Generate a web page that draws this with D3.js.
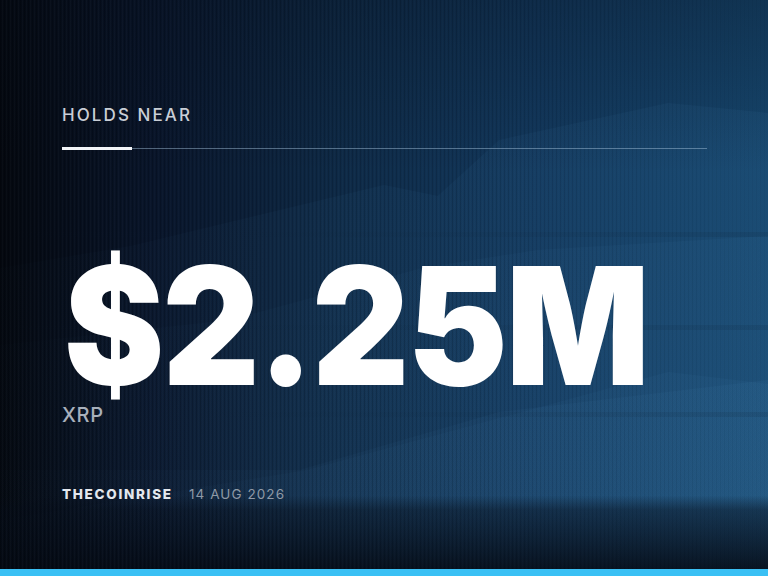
<!DOCTYPE html>
<html>
<head>
<meta charset="utf-8">
<script src="https://cdn.jsdelivr.net/npm/d3@7"></script>
<style>
  html, body { margin: 0; padding: 0; background: #060a13; }
  svg { display: block; }
</style>
</head>
<body>
<div id="card"></div>
<script>
// ── Datos ──────────────────────────────────────────────
const kicker   = ["HOLDS NEAR"];
const headline = ["$2.25M"];
const unit     = ["XRP"];
const source   = ["THECOINRISE"];
const dates    = ["14 AUG 2026"];

// crestas del fondo (x en %, y en px)
const ridgeBack  = [[0, 268], [17, 246], [50, 185], [57, 196], [65, 140], [87, 103], [100, 113]];
const ridgeMid   = [[0, 345], [30, 320], [55, 268], [70, 250], [100, 236]];
const ridgeLow   = [[0, 470], [39, 470], [65, 412], [100, 380]];
const ridgeFront = [[0, 520], [40, 470], [69, 410], [87, 372], [100, 384]];
const bandRows   = [232, 325, 412];

const W = 768, H = 576;
const x = d3.scaleLinear().domain([0, 100]).range([0, W]);

const svg = d3.select('#card').append('svg')
    .attr('width', W).attr('height', H);
const defs = svg.append('defs');

// ── Fondo ──────────────────────────────────────────────
const bgH = defs.append('linearGradient').attr('id', 'bgH')
    .attr('x1', 0).attr('x2', 1).attr('y1', 0).attr('y2', 0);
[[0, '#04080f'], [0.2, '#09152a'], [0.45, '#0e2a47'], [0.7, '#12385d'], [1, '#16466d']]
    .forEach(([o, c]) => bgH.append('stop').attr('offset', o).attr('stop-color', c));

const bgV = defs.append('linearGradient').attr('id', 'bgV')
    .attr('x1', 0).attr('x2', 0).attr('y1', 0).attr('y2', 1);
[[0, 'rgba(5,12,24,0.3)'], [0.3, 'rgba(5,12,24,0)'], [0.86, 'rgba(5,12,24,0)'],
 [0.885, 'rgba(5,12,24,0.45)'], [1, 'rgba(4,9,18,0.9)']]
    .forEach(([o, c]) => bgV.append('stop').attr('offset', o).attr('stop-color', c));

const stripes = defs.append('pattern').attr('id', 'stripes')
    .attr('patternUnits', 'userSpaceOnUse').attr('width', 4).attr('height', 8);
stripes.append('rect').attr('width', 1).attr('height', 8).attr('fill', 'rgba(0,0,0,0.16)');
stripes.append('rect').attr('x', 2).attr('width', 1).attr('height', 8).attr('fill', 'rgba(255,255,255,0.025)');

const stripeFade = defs.append('linearGradient').attr('id', 'stripeFade')
    .attr('x1', 0).attr('x2', 1);
[[0, 'white', 1], [0.6, 'white', 0.7], [1, 'white', 0.15]]
    .forEach(([o, c, a]) => stripeFade.append('stop').attr('offset', o)
        .attr('stop-color', c).attr('stop-opacity', a));
defs.append('mask').attr('id', 'stripeMask')
    .append('rect').attr('width', W).attr('height', H).attr('fill', 'url(#stripeFade)');

svg.append('rect').attr('width', W).attr('height', H).attr('fill', 'url(#bgH)');

// crestas
const ridgeFade = defs.append('linearGradient').attr('id', 'ridgeFade')
    .attr('x1', 0).attr('x2', 1);
[[0, 0.1], [0.35, 0.55], [1, 1]]
    .forEach(([o, a]) => ridgeFade.append('stop').attr('offset', o)
        .attr('stop-color', '#4f92c4').attr('stop-opacity', a));

const area = d3.area().x(d => x(d[0])).y0(H).y1(d => d[1]);
const ridges = [
    { pts: ridgeBack,  op: 0.08 },
    { pts: ridgeMid,   op: 0.06 },
    { pts: ridgeLow,   op: 0.07 },
    { pts: ridgeFront, op: 0.06 }
];
svg.append('g').selectAll('path').data(ridges).join('path')
    .attr('d', d => area(d.pts))
    .attr('fill', 'url(#ridgeFade)')
    .attr('opacity', d => d.op);

// bandas horizontales (más visibles a la derecha)
const bandFade = defs.append('linearGradient').attr('id', 'bandFade')
    .attr('x1', 0).attr('x2', 1);
[[0, 0], [0.5, 0.4], [1, 1]]
    .forEach(([o, a]) => bandFade.append('stop').attr('offset', o)
        .attr('stop-color', '#0a2036').attr('stop-opacity', a));
svg.append('g').selectAll('rect').data(bandRows).join('rect')
    .attr('x', 0).attr('width', W)
    .attr('y', d => d).attr('height', 5)
    .attr('fill', 'url(#bandFade)').attr('opacity', 0.14);

svg.append('rect').attr('width', W).attr('height', H).attr('fill', 'url(#bgV)');
svg.append('rect').attr('width', W).attr('height', H)
    .attr('fill', 'url(#stripes)').attr('mask', 'url(#stripeMask)');

// barra inferior
svg.append('rect').attr('x', 0).attr('y', 569).attr('width', W).attr('height', 7)
    .attr('fill', '#3ac0f4');

// ── Textos ─────────────────────────────────────────────
const left = 62;
const fit = (sel, width) => sel.attr('textLength', width).attr('lengthAdjust', 'spacing');

svg.append('text').data(kicker)
    .attr('x', left).attr('y', 121)
    .attr('font-family', 'Inter, "Noto Sans", sans-serif')
    .attr('font-size', 17).attr('font-weight', 500)
    .attr('fill', '#c9ced6')
    .text(d => d)
    .call(fit, 128);

// separador
svg.append('line').attr('x1', 132).attr('x2', 707).attr('y1', 148.5).attr('y2', 148.5)
    .attr('stroke', 'rgba(170,200,225,0.45)').attr('stroke-width', 1);
svg.append('rect').attr('x', left).attr('y', 147).attr('width', 70).attr('height', 3)
    .attr('fill', '#f2f4f7');

// cifra principal: escala horizontal para ocupar 64..648
const bigG = svg.append('g');
const big = bigG.append('text').data(headline)
    .attr('x', 0).attr('y', 0)
    .attr('font-family', 'Inter, "Noto Sans", sans-serif')
    .attr('font-size', 164).attr('font-weight', 900)
    .attr('letter-spacing', -2)
    .attr('fill', '#ffffff')
    .text(d => d);
{
    const bb = big.node().getBBox();
    const sx = 584 / bb.width;
    bigG.attr('transform', `translate(${64 - bb.x * sx},385) scale(${sx},1)`);
}

svg.append('text').data(unit)
    .attr('x', left).attr('y', 422)
    .attr('font-family', 'Inter, "Noto Sans", sans-serif')
    .attr('font-size', 20).attr('font-weight', 500)
    .attr('letter-spacing', 0.6)
    .attr('fill', '#a8b0bb')
    .text(d => d);

svg.append('text').data(source)
    .attr('x', left).attr('y', 499)
    .attr('font-family', 'Inter, "Noto Sans", sans-serif')
    .attr('font-size', 13.5).attr('font-weight', 800)
    .attr('fill', '#e3e7ed')
    .text(d => d)
    .call(fit, 109);

svg.append('text').data(dates)
    .attr('x', 189).attr('y', 499)
    .attr('font-family', 'Inter, "Noto Sans", sans-serif')
    .attr('font-size', 13.5).attr('font-weight', 400)
    .attr('fill', '#8f99a6')
    .text(d => d)
    .call(fit, 95);
</script>
</body>
</html>
